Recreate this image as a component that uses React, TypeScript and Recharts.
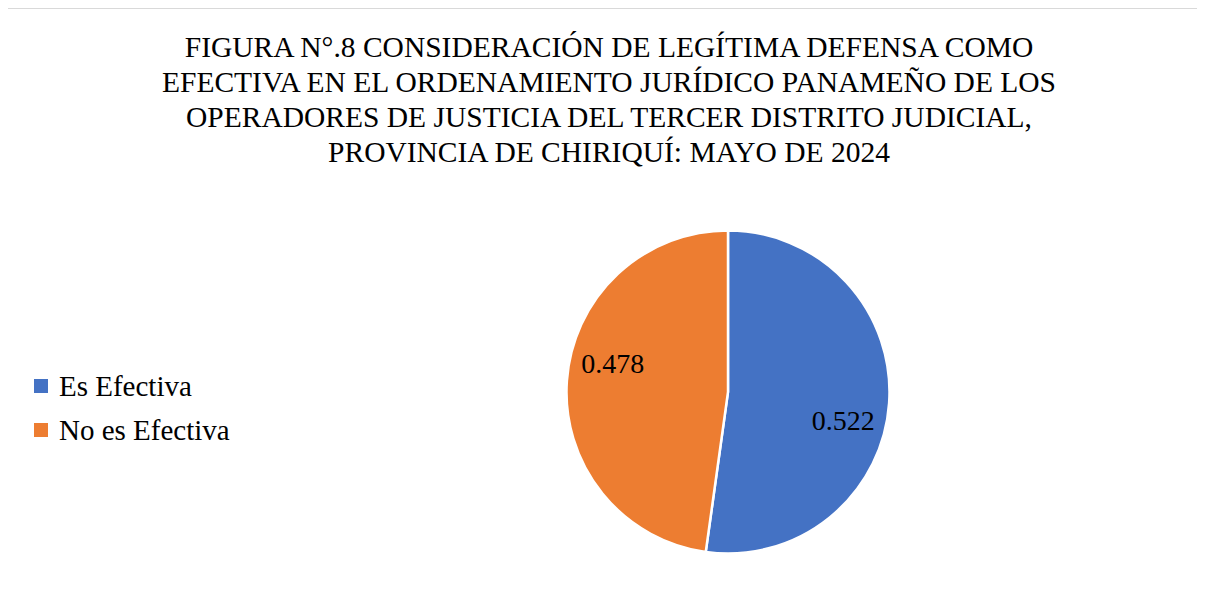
import { Legend, Pie, PieChart, Cell } from "recharts";

const categories = ["Es Efectiva", "No es Efectiva"];
const shares = [0.522, 0.478];
const colors = ["#4472C4", "#ED7D31"];
const titleLines = [
  "FIGURA N°.8 CONSIDERACIÓN DE LEGÍTIMA DEFENSA COMO",
  "EFECTIVA EN EL ORDENAMIENTO JURÍDICO PANAMEÑO DE LOS",
  "OPERADORES DE JUSTICIA DEL TERCER DISTRITO JUDICIAL,",
  "PROVINCIA DE CHIRIQUÍ: MAYO DE 2024",
];

const data = categories.map((name, i) => ({ name, value: shares[i] }));

const FONT = "'Liberation Serif', serif";
const RAD = Math.PI / 180;

// labels sit a bit off the slice middle, like Excel's best fit
function renderLabel(props: any) {
  const { cx, cy, midAngle, outerRadius, value } = props;
  const a = (midAngle - 10) * RAD;
  const r = outerRadius * 0.735;
  return (
    <text
      x={cx + r * Math.cos(a)}
      y={cy - r * Math.sin(a)}
      textAnchor="middle"
      dominantBaseline="central"
      fill="#000"
      fontFamily={FONT}
      fontSize={28}
    >
      {value.toFixed(3)}
    </text>
  );
}

function LegendBox({ payload }: any) {
  return (
    <div style={{ fontFamily: FONT, fontSize: 29, color: "#000" }}>
      {(payload || []).map((p: any) => (
        <div
          key={p.value}
          style={{ display: "flex", alignItems: "center", height: 44 }}
        >
          <span
            style={{
              width: 14,
              height: 14,
              background: p.color,
              display: "inline-block",
              marginRight: 11,
            }}
          />
          <span>{p.value}</span>
        </div>
      ))}
    </div>
  );
}

export default function App() {
  return (
    <div style={{ width: 1198, height: 594, overflow: "hidden", marginLeft: -1 }}>
      <div
        style={{
          position: "relative",
          width: 1230,
          height: 620,
          border: "1px solid #d9d9d9",
          background: "#fff",
          fontFamily: FONT,
        }}
      >
        <div
          style={{
            position: "absolute",
            top: 21,
            left: 0,
            width: 1202,
            textAlign: "center",
            fontFamily: FONT,
            fontSize: 29.5,
            lineHeight: "35px",
            color: "#000",
          }}
        >
          {titleLines.map((l) => (
            <div key={l}>{l}</div>
          ))}
        </div>
        <PieChart
          width={1205}
          height={600}
          margin={{ top: 0, right: 0, bottom: 0, left: 0 }}
          style={{ position: "absolute", top: 0, left: 0 }}
        >
          <Legend
            content={<LegendBox />}
            wrapperStyle={{ left: 26, top: 355, width: "auto" }}
          />
          <Pie
            data={data}
            dataKey="value"
            nameKey="name"
            cx={720}
            cy={383}
            outerRadius={161.5}
            startAngle={90}
            endAngle={-270}
            stroke="#fff"
            strokeWidth={2.5}
            label={renderLabel}
            labelLine={false}
            isAnimationActive={false}
          >
            {data.map((d, i) => (
              <Cell key={d.name} fill={colors[i]} />
            ))}
          </Pie>
        </PieChart>
      </div>
    </div>
  );
}
